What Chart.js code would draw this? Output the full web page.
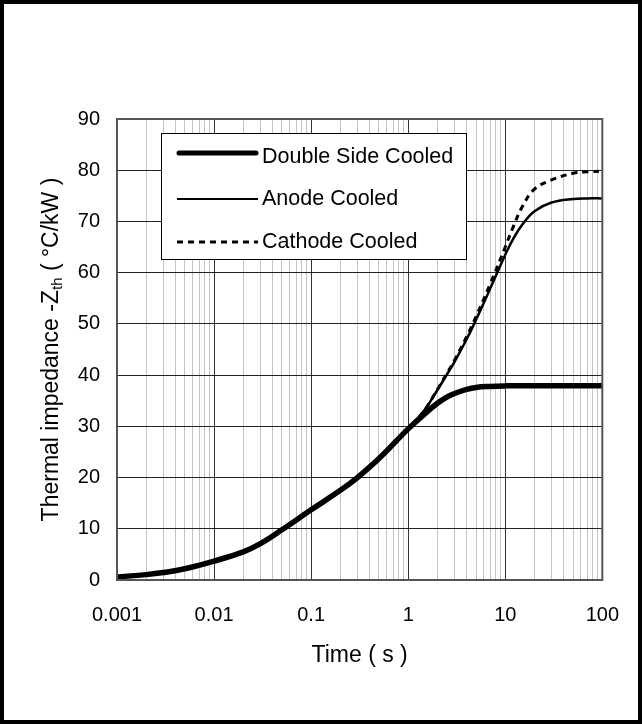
<!DOCTYPE html>
<html>
<head>
<meta charset="utf-8">
<script src="https://cdn.jsdelivr.net/npm/chart.js@4.4.1/dist/chart.umd.min.js"></script>
<style>
    html, body { margin: 0; padding: 0; background: #fff; }
    canvas { display: block; }
</style>
</head>
<body>
<canvas id="zthChart" width="642" height="724"></canvas>
<script>
// Time (s) and thermal impedance (°C/kW)
const timeValues    = [0.001, 0.002, 0.003, 0.005, 0.01, 0.02, 0.03, 0.05, 0.1, 0.2, 0.3, 0.5, 1, 1.5, 2, 2.5, 3, 4, 5, 7, 10, 12, 15, 20, 30, 50, 70, 100];
const dscValues     = [0.6, 1.05, 1.45, 2.2, 3.7, 5.5, 7.1, 9.8, 13.7, 17.5, 20.0, 23.7, 29.5, 32.5, 34.5, 35.7, 36.4, 37.2, 37.6, 37.8, 37.9, 37.9, 37.9, 37.9, 37.9, 37.9, 37.9, 37.9];
const anodeValues   = [0.6, 1.05, 1.45, 2.2, 3.7, 5.5, 7.1, 9.8, 13.7, 17.5, 20.0, 23.7, 29.5, 33.4, 37.1, 40.1, 42.6, 47.0, 50.8, 56.9, 63.5, 66.5, 69.4, 72.0, 73.7, 74.4, 74.5, 74.5];
const cathodeValues = [0.6, 1.05, 1.45, 2.2, 3.7, 5.5, 7.1, 9.8, 13.7, 17.5, 20.0, 23.7, 29.5, 33.4, 37.2, 40.3, 42.9, 47.5, 51.4, 57.8, 65.0, 68.8, 72.9, 76.3, 78.1, 79.4, 79.7, 79.8];

const seriesLabels = ['Double Side Cooled', 'Anode Cooled', 'Cathode Cooled'];
const xTickLabels  = ['0.001', '0.01', '0.1', '1', '10', '100'];
const xMinorSteps  = [1, 2, 3, 4, 5, 6, 7, 8, 9];
const yMin = 0, yMax = 90, yStep = 10;

const FONT = '"Liberation Sans", Arial, Helvetica, sans-serif';

function toPoints(values) {
    return timeValues.map((t, i) => ({ x: t, y: values[i] }));
}

// white page with the black outer frame
const framePlugin = {
    id: 'frame',
    beforeDraw(chart) {
        const c = chart.ctx;
        c.save();
        c.fillStyle = '#fff';
        c.fillRect(0, 0, chart.width, chart.height);
        c.restore();
    },
    afterDraw(chart) {
        const c = chart.ctx;
        c.save();
        c.strokeStyle = '#000';
        c.lineWidth = 4;
        c.strokeRect(2, 2, chart.width - 4, chart.height - 4);
        c.restore();
    }
};

// grey border round the plot area
const plotBorderPlugin = {
    id: 'plotBorder',
    afterDatasetsDraw(chart) {
        const a = chart.chartArea;
        const c = chart.ctx;
        c.save();
        c.strokeStyle = '#555';
        c.lineWidth = 2;
        c.strokeRect(a.left, a.top, a.right - a.left, a.bottom - a.top);
        c.restore();
    }
};

// legend box drawn inside the plot, top left
const boxLegendPlugin = {
    id: 'boxLegend',
    afterDraw(chart) {
        const c = chart.ctx;
        const rows = [153, 199, 242];
        c.save();
        c.fillStyle = '#fff';
        c.fillRect(161, 133, 305, 126);
        c.strokeStyle = '#000';
        c.lineWidth = 1;
        c.strokeRect(161.5, 133.5, 305, 126);
        chart.data.datasets.forEach((ds, i) => {
            c.beginPath();
            c.strokeStyle = ds.borderColor;
            c.lineWidth = i === 0 ? 5 : (i === 1 ? 2 : 3);
            c.lineCap = i === 0 ? 'round' : 'butt';
            c.setLineDash(ds.borderDash || []);
            c.moveTo(i === 0 ? 179 : 177, rows[i]);
            c.lineTo(i === 0 ? 256 : 258, rows[i]);
            c.stroke();
            c.setLineDash([]);
            c.fillStyle = '#000';
            c.font = '21.5px ' + FONT;
            c.textBaseline = 'middle';
            c.textAlign = 'left';
            c.fillText(ds.label, 262, rows[i] + (i === 0 ? 4 : 0));
        });
        c.restore();
    }
};

// vertical axis title with subscript "th"
const yTitlePlugin = {
    id: 'yTitle',
    afterDraw(chart) {
        const c = chart.ctx;
        const a = chart.chartArea;
        const mainFont = '23px ' + FONT;
        const subFont = '15px ' + FONT;
        const partA = 'Thermal impedance -Z';
        const partSub = 'th';
        const partB = ' ( \u00B0C/kW )';
        c.save();
        c.font = mainFont;
        const wA = c.measureText(partA).width;
        const wB = c.measureText(partB).width;
        c.font = subFont;
        const wS = c.measureText(partSub).width;
        const total = wA + wS + wB;
        c.translate(58, (a.top + a.bottom) / 2);
        c.rotate(-Math.PI / 2);
        c.fillStyle = '#000';
        c.textBaseline = 'alphabetic';
        c.textAlign = 'left';
        let x = -total / 2;
        c.font = mainFont;
        c.fillText(partA, x, 0);
        x += wA;
        c.font = subFont;
        c.fillText(partSub, x, 4);
        x += wS;
        c.font = mainFont;
        c.fillText(partB, x, 0);
        c.restore();
    }
};

const ctx = document.getElementById('zthChart');

new Chart(ctx, {
    type: 'line',
    data: {
        datasets: [
            {
                label: seriesLabels[0],
                data: toPoints(dscValues),
                borderColor: '#000',
                borderWidth: 5.5,
                pointRadius: 0,
                tension: 0.4,
                fill: false
            },
            {
                label: seriesLabels[1],
                data: toPoints(anodeValues),
                borderColor: '#000',
                borderWidth: 2.5,
                pointRadius: 0,
                tension: 0.4,
                fill: false
            },
            {
                label: seriesLabels[2],
                data: toPoints(cathodeValues),
                borderColor: '#000',
                borderWidth: 3,
                borderDash: [6, 5],
                pointRadius: 0,
                tension: 0.4,
                fill: false
            }
        ]
    },
    options: {
        responsive: false,
        animation: false,
        layout: {
            padding: { left: 0, top: 119, right: 36, bottom: 0 }
        },
        plugins: {
            legend: { display: false },
            title: { display: false },
            tooltip: { enabled: false }
        },
        scales: {
            x: {
                type: 'logarithmic',
                min: 0.001,
                max: 100,
                afterFit: function(scale) {
                    scale.height = 144;
                },
                afterBuildTicks: function(axis) {
                    const ticks = [];
                    xTickLabels.forEach((lab, i) => {
                        const decade = Number(lab);
                        if (i === xTickLabels.length - 1) {
                            ticks.push({ value: decade, major: true });
                            return;
                        }
                        xMinorSteps.forEach(m => {
                            ticks.push({ value: Number((m * decade).toPrecision(6)), major: m === 1 });
                        });
                    });
                    axis.ticks = ticks;
                },
                ticks: {
                    autoSkip: false,
                    maxRotation: 0,
                    padding: 23,
                    color: '#000',
                    font: { size: 20, family: FONT },
                    callback: function(value) {
                        const lab = xTickLabels.find(l => Number(l) === value);
                        return lab || '';
                    }
                },
                grid: {
                    drawTicks: false,
                    lineWidth: 1,
                    color: function(context) {
                        return context.tick && context.tick.major ? '#333' : '#c4c4c4';
                    }
                },
                border: { display: false },
                title: {
                    display: true,
                    text: 'Time ( s )',
                    color: '#000',
                    font: { size: 23, family: FONT },
                    padding: { top: 0, bottom: 55 }
                }
            },
            y: {
                min: yMin,
                max: yMax,
                afterFit: function(scale) {
                    scale.width = 117;
                },
                ticks: {
                    stepSize: yStep,
                    padding: 17,
                    color: '#000',
                    font: { size: 20, family: FONT }
                },
                grid: {
                    drawTicks: false,
                    lineWidth: 1,
                    color: '#222'
                },
                border: { display: false }
            }
        }
    },
    plugins: [framePlugin, plotBorderPlugin, boxLegendPlugin, yTitlePlugin]
});
</script>
</body>
</html>
